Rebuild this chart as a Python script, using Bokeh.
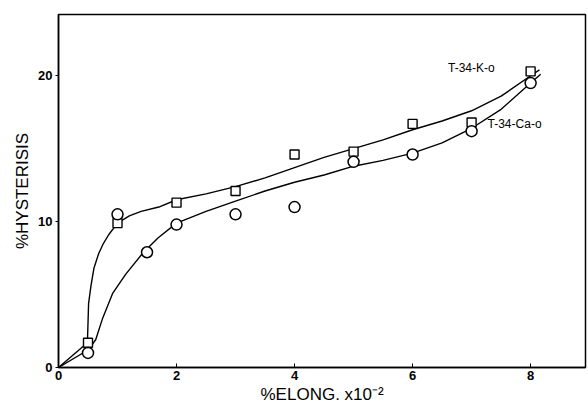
import math
from bokeh.plotting import figure
from bokeh.models import Range1d, FixedTicker, Label, Title
from bokeh.embed import file_html
from bokeh.resources import INLINE

# ---- data ----
x_pts = [0.5, 1.0, 2.0, 3.0, 4.0, 5.0, 6.0, 7.0, 8.0]
k_pts = [1.7, 9.9, 11.3, 12.1, 14.6, 14.8, 16.7, 16.8, 20.3]           # T-34-K-o (squares)
ca_x = [0.5, 1.0, 1.5, 2.0, 3.0, 4.0, 5.0, 6.0, 7.0, 8.0]
ca_pts = [1.0, 10.5, 7.9, 9.8, 10.5, 11.0, 14.1, 14.6, 16.2, 19.5]     # T-34-Ca-o (circles)

# smooth fitted curves (as drawn)
k_cx = [0, 0.49, 0.51, 0.55, 0.6, 0.68, 0.76, 0.85, 1.0, 1.2, 1.4, 1.7, 2.0, 2.5, 3.0,
        3.5, 4.0, 4.5, 5.0, 5.5, 6.0, 6.5, 7.0, 7.5, 8.0, 8.15]
k_cy = [0, 1.7, 4.4, 5.6, 6.8, 7.8, 8.5, 9.1, 9.9, 10.4, 10.7, 11.0, 11.5, 11.9, 12.4,
        13.0, 13.7, 14.4, 15.0, 15.6, 16.3, 16.9, 17.6, 18.6, 20.0, 20.4]
ca_cx = [0, 0.5, 0.63, 0.75, 0.92, 1.14, 1.44, 1.69, 2.0, 2.5, 3.0, 3.5, 4.0, 4.5, 5.0,
         5.5, 6.0, 6.5, 7.0, 7.5, 8.0, 8.17]
ca_cy = [0, 1.2, 1.9, 3.4, 5.1, 6.4, 7.9, 8.9, 9.9, 10.7, 11.4, 12.1, 12.7, 13.2, 13.8,
         14.2, 14.7, 15.4, 16.4, 17.7, 19.5, 20.1]

x_ticks = [0, 2, 4, 6, 8]
y_ticks = [0, 10, 20]

FONT = "Liberation Sans"

p = figure(width=588, height=407, output_backend="svg", toolbar_location=None,
           x_range=Range1d(0, 8.93), y_range=Range1d(0, 24.2),
           min_border_left=58, min_border_right=3, min_border_top=14, min_border_bottom=40)
p.background_fill_color = "white"
p.border_fill_color = "white"
p.outline_line_color = "black"
p.outline_line_width = 1.5
p.xgrid.visible = False
p.ygrid.visible = False

# bottom axis
xa = p.xaxis[0]
xa.ticker = FixedTicker(ticks=x_ticks)
xa.major_tick_in = 4
xa.major_tick_out = 0
xa.minor_tick_line_color = None
xa.axis_line_width = 1.5
xa.major_label_text_font = FONT
xa.major_label_text_font_style = "bold"
xa.major_label_text_font_size = "13px"
xa.major_label_text_color = "black"
xa.major_label_standoff = 3

# left axis
ya = p.yaxis[0]
ya.ticker = FixedTicker(ticks=y_ticks)
ya.major_tick_in = 0
ya.major_tick_out = 3
ya.minor_tick_line_color = None
ya.axis_line_width = 1.5
ya.major_label_text_font = FONT
ya.major_label_text_font_style = "bold"
ya.major_label_text_font_size = "13px"
ya.major_label_text_color = "black"
ya.major_label_standoff = 3
ya.axis_label = "%HYSTERISIS"
ya.axis_label_text_font = FONT
ya.axis_label_text_font_size = "17px"
ya.axis_label_text_font_style = "normal"
ya.axis_label_text_color = "black"
ya.axis_label_standoff = 3

# x-axis title
xt = Title(text="%ELONG.  x10\u207b\u00b2", align="left", offset=202,
           text_font=FONT, text_font_size="17px", text_font_style="normal",
           text_color="black", standoff=0)
p.add_layout(xt, "below")

# curves
p.line(k_cx, k_cy, line_color="black", line_width=1.4)
p.line(ca_cx, ca_cy, line_color="black", line_width=1.4)

# markers
p.scatter(x_pts, k_pts, marker="square", size=9, fill_color="white",
          line_color="black", line_width=1.4)
p.scatter(ca_x, ca_pts, marker="circle", size=11, fill_color="white",
          line_color="black", line_width=1.5)

# series labels
p.add_layout(Label(x=6.6, y=20.5, text="T-34-K-o", text_font=FONT, text_font_size="12px",
                   text_baseline="middle", text_color="black"))
p.add_layout(Label(x=7.27, y=16.7, text="T-34-Ca-o", text_font=FONT, text_font_size="12px",
                   text_baseline="middle", text_color="black"))

open("out.html", "w").write(file_html(p, INLINE))
